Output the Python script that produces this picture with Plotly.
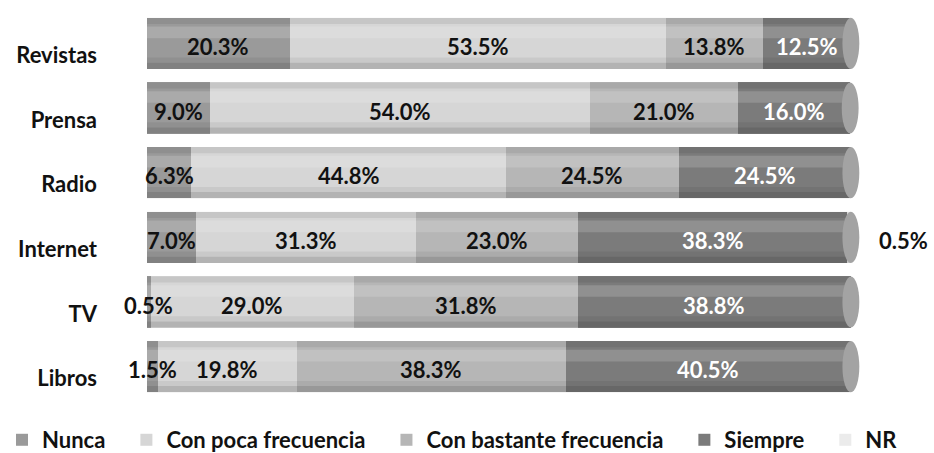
import plotly.graph_objects as go

# categories, top to bottom
medios = ["Revistas", "Prensa", "Radio", "Internet", "TV", "Libros"]

# percentages per answer
nunca = [20.3, 9.0, 6.3, 7.0, 0.5, 1.5]
poca = [53.5, 54.0, 44.8, 31.3, 29.0, 19.8]
bastante = [13.8, 21.0, 24.5, 23.0, 31.8, 38.3]
siempre = [12.5, 16.0, 24.5, 38.3, 38.8, 40.5]
nr = [0, 0, 0, 0.5, 0, 0]

FONT = "Lato"
FSIZE = 22

series = [
    ("Nunca", nunca, "#9a9a9a", "#111111"),
    ("Con poca frecuencia", poca, "#d6d6d6", "#111111"),
    ("Con bastante frecuencia", bastante, "#b6b6b6", "#111111"),
    ("Siempre", siempre, "#7b7b7b", "#ffffff"),
    ("NR", nr, "#ebebeb", "#111111"),
]

order = medios[::-1]   # y axis runs bottom to top
half = 0.395           # half bar thickness (category units)

fig = go.Figure()

for name, vals, color, tcolor in series:
    fig.add_trace(go.Bar(
        name=name + "\u00a0" * 3, y=medios, x=vals, orientation="h",
        marker=dict(color=color, line=dict(width=0)),
        hoverinfo="x+name",
    ))

# value labels, centred on each slice (NR goes outside the bar)
start = [0.0] * len(medios)
for name, vals, color, tcolor in series:
    for i, v in enumerate(vals):
        if v > 0:
            outside = name == "NR"
            fig.add_annotation(
                x=start[i] + v if outside else start[i] + v / 2, y=medios[i],
                text="%.1f%%" % v, showarrow=False,
                xanchor="left" if outside else "center",
                xshift=26 if outside else 0, yshift=-3,
                font=dict(family=FONT, size=FSIZE, color=tcolor, weight="bold"),
            )
        start[i] += v

# cylinder look: shading bands and a rounded end cap on each bar
for i, m in enumerate(medios):
    k = order.index(m)
    total = start[i]
    bands = [
        (k + 0.30, k + half, "rgba(0,0,0,0.07)"),
        (k + 0.08, k + 0.26, "rgba(255,255,255,0.16)"),
        (k - 0.22, k - 0.30, "rgba(0,0,0,0.06)"),
        (k - 0.30, k - half, "rgba(0,0,0,0.16)"),
    ]
    for y0, y1, c in bands:
        fig.add_shape(type="rect", xref="x", yref="y", x0=0, x1=total,
                      y0=y0, y1=y1, fillcolor=c, line=dict(width=0), layer="above")
    fig.add_shape(type="circle", xref="x", yref="y", x0=total - 1.2, x1=total + 1.2,
                  y0=k - half, y1=k + half, fillcolor="#a3a3a3",
                  line=dict(width=0), layer="above")

fig.update_layout(
    barmode="stack",
    bargap=0.21,
    width=934, height=453,
    paper_bgcolor="white", plot_bgcolor="white",
    margin=dict(l=147, r=10, t=11, b=54, autoexpand=False),
    font=dict(family=FONT, size=FSIZE, color="#111111"),
    xaxis=dict(range=[0, 110.5], visible=False),
    yaxis=dict(
        categoryorder="array", categoryarray=order,
        showgrid=False, showline=False, ticks="",
        ticklabelstandoff=49, ticklabelshift=12,
        tickfont=dict(family=FONT, size=FSIZE, color="#111111", weight="bold"),
    ),
    legend=dict(
        orientation="h",
        x=-0.1866, xanchor="left", y=-0.0515, yanchor="top",
        font=dict(family=FONT, size=FSIZE, color="#111111", weight="bold"),
        traceorder="normal", itemwidth=30,
    ),
    showlegend=True,
)

# page body has a default 8px margin; drop it so the chart sits at 0,0
fig.write_html("out.html", config={"displayModeBar": False},
               post_script="document.body.style.margin='0px';")
